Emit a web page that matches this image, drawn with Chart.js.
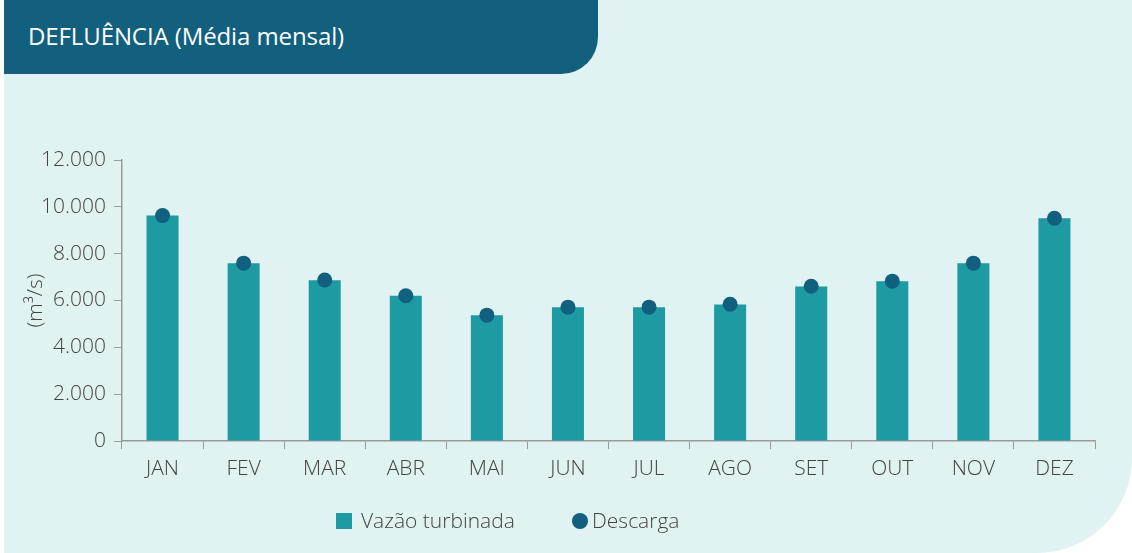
<!DOCTYPE html>
<html>
<head>
<meta charset="utf-8">
<script src="https://cdn.jsdelivr.net/npm/chart.js@4"></script>
<style>
  html,body{margin:0;padding:0;background:#fff;}
  body{width:1132px;height:553px;position:relative;overflow:hidden;font-family:"Open Sans",sans-serif;}
  .panel{position:absolute;left:4px;top:0;width:1128px;height:553px;background:#e0f2f2;border-bottom-right-radius:95px;}
  .head{position:absolute;left:4px;top:0;width:594px;height:74px;background:#12607e;border-bottom-right-radius:37px;}
  .head h1{margin:0;position:absolute;left:24px;top:19px;font-size:24px;font-weight:400;color:#fff;letter-spacing:-0.1px;}
  #c{position:absolute;left:0;top:0;}
  .legend{position:absolute;top:506px;font-size:21px;font-weight:300;color:#444;}
  .legend span.sw{display:inline-block;width:16px;height:16px;vertical-align:-1px;margin-right:9px;}
</style>
</head>
<body>
<div class="panel"></div>
<div class="head"><h1>DEFLUÊNCIA (Média mensal)</h1></div>
<canvas id="c" width="1132" height="553"></canvas>
<div class="legend" style="left:336px"><span class="sw" style="background:#1e9aa3"></span>Vazão turbinada</div>
<div class="legend" style="left:572px"><span class="sw" style="background:#10607e;border-radius:50%;margin-right:4px"></span>Descarga</div>
<script>
// monthly values, m3/s
const MONTHS   = ["JAN","FEV","MAR","ABR","MAI","JUN","JUL","AGO","SET","OUT","NOV","DEZ"];
const VAZAO    = [9625, 7594, 6870, 6200, 5375, 5717, 5717, 5830, 6596, 6826, 7594, 9515];
const DESCARGA = [9625, 7594, 6875, 6200, 5375, 5717, 5717, 5840, 6610, 6826, 7594, 9515];
const Y_TICKS  = [0, 2000, 4000, 6000, 8000, 10000, 12000];

const AXIS = "#9a9a9a", TXT = "#444";
const fmt = v => String(v).replace(/\B(?=(\d{3})+(?!\d))/g, ".");
const tickFont = {family:"Open Sans", size:21, weight:300};

new Chart(document.getElementById("c"), {
  data:{
    labels: MONTHS,
    datasets:[
      { type:"line", label:"Descarga", data:DESCARGA, showLine:false,
        pointRadius:7.5, pointHoverRadius:7.5, pointBackgroundColor:"#10607e", pointBorderWidth:0, order:0 },
      { type:"bar", label:"Vazão turbinada", data:VAZAO, backgroundColor:"#1e9aa3",
        barPercentage:0.395, categoryPercentage:1, order:1 }
    ]
  },
  options:{
    responsive:false, animation:false,
    layout:{padding:{top:160, left:19, right:37, bottom:0}},
    plugins:{legend:{display:false}, tooltip:{enabled:false}},
    scales:{
      x:{
        grid:{offset:true, drawOnChartArea:false, color:AXIS, tickLength:8},
        border:{color:AXIS, width:1.5},
        ticks:{color:TXT, font:tickFont, padding:7},
        afterFit: s => { s.height = 112; }
      },
      y:{
        min:0, max:12000,
        afterBuildTicks: s => { s.ticks = Y_TICKS.map(v=>({value:v})); },
        grid:{drawOnChartArea:false, color:AXIS, tickLength:8},
        border:{color:AXIS, width:1.5},
        ticks:{color:TXT, font:tickFont, padding:8, callback:v=>fmt(v)},
        title:{display:true, text:"(m³/s)", color:TXT, font:{family:"Open Sans", size:21, weight:300}},
        afterFit: s => { s.width = 103; }
      }
    }
  }
});
</script>
</body>
</html>
